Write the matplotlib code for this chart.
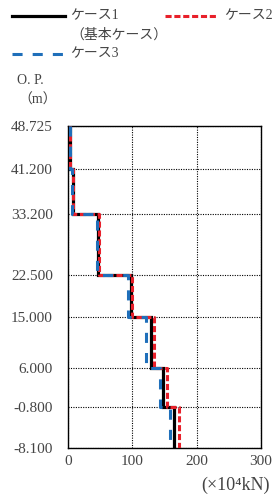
import numpy as np
import matplotlib
matplotlib.use("Agg")
import matplotlib.pyplot as plt
from matplotlib.lines import Line2D

plt.rcParams['font.family'] = ['Liberation Serif', 'Noto Sans CJK JP', 'DejaVu Sans']

# layer boundaries (O.P., m) and values per layer (x10^4 kN)
elev = [48.725, 41.2, 33.2, 22.5, 15.0, 6.0, -0.8, -8.1]
elev_labels = ["48.725", "41.200", "33.200", "22.500", "15.000", "6.000", "-0.800", "-8.100"]
case1 = [3, 7, 46, 97, 129, 147, 164]
case2 = [3, 7, 48, 100, 133, 154, 172]
case3 = [3, 6, 44, 93, 121, 143, 159]
xticks = [0, 100, 200, 300]

txt = '#444444'

fig = plt.figure(figsize=(2.73, 4.97), dpi=100)
ax = fig.add_axes([0.250, 0.0986, 0.706, 0.648])

def profile(vals):
    y = np.column_stack([elev[:-1], elev[1:]]).ravel()
    x = np.repeat(vals, 2)
    return x, y

x1, y1 = profile(case1)
x2, y2 = profile(case2)
x3, y3 = profile(case3)
ax.plot(x1, y1, color='black', lw=2.3, solid_joinstyle='miter', zorder=3)
ax.plot(x2, y2, color='#e8202a', lw=2.2, dashes=(2.0, 0.9), zorder=4)
ax.plot(x3, y3, color='#1f6fba', lw=2.2, dashes=(3.3, 3.3), zorder=5)

ax.set_xlim(0, 300)
ax.set_ylim(elev[-1], elev[0])
ax.set_xticks(xticks)
ax.set_xticklabels([str(v) for v in xticks])
ax.set_yticks(elev)
ax.set_yticklabels(elev_labels)
ax.tick_params(axis='both', length=0, labelsize=11, colors=txt)
ax.tick_params(axis='y', pad=11)
ax.tick_params(axis='x', pad=5)
ax.grid(True, color='black', ls=(0, (1, 1.2)), lw=0.8)
for s in ax.spines.values():
    s.set_color('black')
    s.set_linewidth(1.0)

# legend drawn by hand to keep the original layout
fs = 10
fig.add_artist(Line2D([12/273, 65/273], [1-16/497]*2, color='black', lw=2.3))
fig.text(70/273, 1-16/497, "ケース1", fontsize=fs, color=txt, va='center')
fig.text(70/273, 1-35/497, "（基本ケース）", fontsize=fs, color=txt, va='center')
fig.add_artist(Line2D([165/273, 218/273], [1-16/497]*2, color='#e8202a', lw=2.2, dashes=(2.0, 0.9)))
fig.text(224/273, 1-16/497, "ケース2", fontsize=fs, color=txt, va='center')
fig.add_artist(Line2D([12/273, 65/273], [1-54/497]*2, color='#1f6fba', lw=2.2, dashes=(3.3, 3.3)))
fig.text(70/273, 1-54/497, "ケース3", fontsize=fs, color=txt, va='center')

fig.text(17/273, 1-80/497, "O. P.", fontsize=fs, color=txt, va='center')
fig.text(18/273, 1-100/497, "（m）", fontsize=fs, color=txt, va='center')
fig.text(270/273, 1-485/497, "(×10⁴kN)", fontsize=13, color=txt, va='center', ha='right')

fig.savefig("out.png", dpi=100)
